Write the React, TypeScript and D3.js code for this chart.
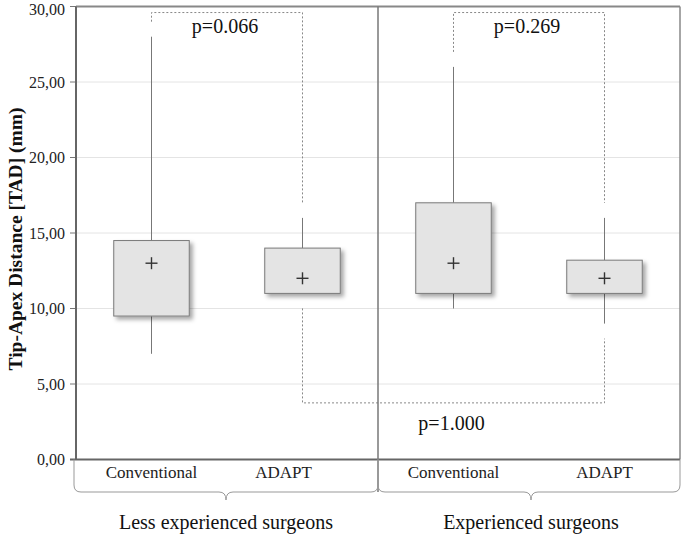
import React from "react";
import * as d3 from "d3";

// box plot values (mm)
const groups = ["Less experienced surgeons", "Experienced surgeons"];
const categories = ["Conventional", "ADAPT", "Conventional", "ADAPT"];
const whiskerLow = [7, 11, 10, 9];
const q1 = [9.5, 11, 11, 11];
const q3 = [14.5, 14, 17, 13.2];
const whiskerHigh = [28, 16, 26, 16];
const means = [13, 12, 13, 12];

const yTicks = [0, 5, 10, 15, 20, 25, 30];

// pairwise comparisons: [from box, to box]
const compFrom = [0, 2, 1];
const compTo = [1, 3, 3];
const compLabels = ["p=0.066", "p=0.269", "p=1.000"];
const compLevel = [29.6, 29.6, 3.75];

const width = 685;
const height = 534;
const left = 76;
const right = 680;
const top = 6.5;
const bottom = 459.5;
const gap = 15; // space between dashed bracket and whisker/box
const font = "'Liberation Serif', 'Times New Roman', serif";

const App = () => {
  const ids = categories.map((_, i) => i);
  const x = d3.scaleBand<number>().domain(ids).range([left, right]);
  const y = d3.scaleLinear().domain([0, 30]).range([bottom, top]);
  const bw = x.bandwidth() * 0.5;
  const cx = (i: number) => (x(i) as number) + x.bandwidth() / 2;
  const mid = (left + right) / 2;
  const fmt = (v: number) => d3.format(".2f")(v).replace(".", ",");
  const labelNudge = [0, -19, 0, 0];

  const brace = (x0: number, x1: number, xm: number) =>
    `M${x0},${bottom} L${x0},485 Q${x0},492 ${x0 + 7},492 L${xm - 7},492 Q${xm},492 ${xm},500 Q${xm},492 ${xm + 7},492 L${x1 - 7},492 Q${x1},492 ${x1},485 L${x1},${bottom}`;

  return (
    <svg width={width} height={height} style={{ position: "absolute", left: 0, top: 0, background: "#fff" }}>
      <defs>
        <filter id="shadow" x="-20%" y="-20%" width="150%" height="150%">
          <feDropShadow dx="3" dy="3" stdDeviation="2" floodColor="#000" floodOpacity="0.35" />
        </filter>
      </defs>

      {/* grid */}
      {yTicks.filter((t) => t > 0 && t < 30).map((t) => (
        <line key={t} x1={left} x2={right} y1={y(t)} y2={y(t)} stroke="#e4e4e4" strokeWidth={1} />
      ))}

      {/* y ticks */}
      {yTicks.map((t) => (
        <g key={"t" + t}>
          <line x1={left - 6} x2={left} y1={y(t)} y2={y(t)} stroke="#777" />
          <text
            x={left - 11}
            y={y(t)}
            dy={t === 30 ? "0.55em" : "0.35em"}
            textAnchor="end"
            fontFamily={font}
            fontSize={16}
            fill="#222"
          >
            {fmt(t)}
          </text>
        </g>
      ))}

      <text
        transform={`translate(22,${(top + bottom) / 2 + 6}) rotate(-90)`}
        textAnchor="middle"
        fontFamily={font}
        fontWeight="bold"
        fontSize={19.5}
        fill="#111"
      >
        Tip-Apex Distance [TAD] (mm)
      </text>

      {/* whiskers */}
      {ids.map((i) => (
        <g key={"w" + i} stroke="#777" strokeWidth={1}>
          <line x1={cx(i)} x2={cx(i)} y1={y(whiskerHigh[i])} y2={y(q3[i])} />
          <line x1={cx(i)} x2={cx(i)} y1={y(q1[i])} y2={y(whiskerLow[i])} />
        </g>
      ))}

      {/* boxes */}
      {ids.map((i) => (
        <rect
          key={"b" + i}
          x={cx(i) - bw / 2}
          y={y(q3[i])}
          width={bw}
          height={y(q1[i]) - y(q3[i])}
          fill="#e4e4e4"
          stroke="#7a7a7a"
          strokeWidth={1}
          filter="url(#shadow)"
        />
      ))}

      {/* means */}
      {ids.map((i) => (
        <g key={"m" + i} stroke="#333" strokeWidth={1.4}>
          <line x1={cx(i) - 6} x2={cx(i) + 6} y1={y(means[i])} y2={y(means[i])} />
          <line x1={cx(i)} x2={cx(i)} y1={y(means[i]) - 6} y2={y(means[i]) + 6} />
        </g>
      ))}

      {/* comparison brackets */}
      {compLabels.map((lab, k) => {
        const a = compFrom[k];
        const b = compTo[k];
        const ly = y(compLevel[k]);
        const isTop = compLevel[k] > 15;
        const endY = (i: number) => (isTop ? y(whiskerHigh[i]) - gap : y(whiskerLow[i]) + gap);
        return (
          <g key={"c" + k}>
            <path
              d={`M${cx(a)},${endY(a)} L${cx(a)},${ly} L${cx(b)},${ly} L${cx(b)},${endY(b)}`}
              fill="none"
              stroke="#888"
              strokeWidth={1}
              strokeDasharray="2,2"
            />
            <text
              x={(cx(a) + cx(b)) / 2 - 2}
              y={isTop ? ly + 20 : ly + 27}
              textAnchor="middle"
              fontFamily={font}
              fontSize={20}
              fill="#111"
            >
              {lab}
            </text>
          </g>
        );
      })}

      {/* frame */}
      <line x1={left} x2={right} y1={top} y2={top} stroke="#888" strokeWidth={2} />
      <line x1={right} x2={right} y1={top} y2={bottom} stroke="#888" strokeWidth={1.5} />
      <line x1={left} x2={left} y1={top} y2={bottom} stroke="#666" strokeWidth={2} />
      <line x1={left - 6} x2={right} y1={bottom} y2={bottom} stroke="#666" strokeWidth={2} />
      <line x1={mid} x2={mid} y1={top} y2={492} stroke="#777" strokeWidth={1.5} />

      {/* category labels */}
      {ids.map((i) => (
        <text key={"l" + i} x={cx(i) + labelNudge[i]} y={478} textAnchor="middle" fontFamily={font} fontSize={17} fill="#222">
          {categories[i]}
        </text>
      ))}

      {/* group braces */}
      {groups.map((g, gi) => {
        const x0 = gi === 0 ? left - 2 : mid;
        const x1 = gi === 0 ? mid : right;
        const xm = (x0 + x1) / 2 + (gi === 0 ? 0 : 2);
        return (
          <g key={g}>
            <path d={brace(x0, x1, xm)} fill="none" stroke="#999" strokeWidth={1} />
            <text x={xm} y={529} textAnchor="middle" fontFamily={font} fontSize={20} fill="#111">
              {g}
            </text>
          </g>
        );
      })}
    </svg>
  );
};

export default App;
